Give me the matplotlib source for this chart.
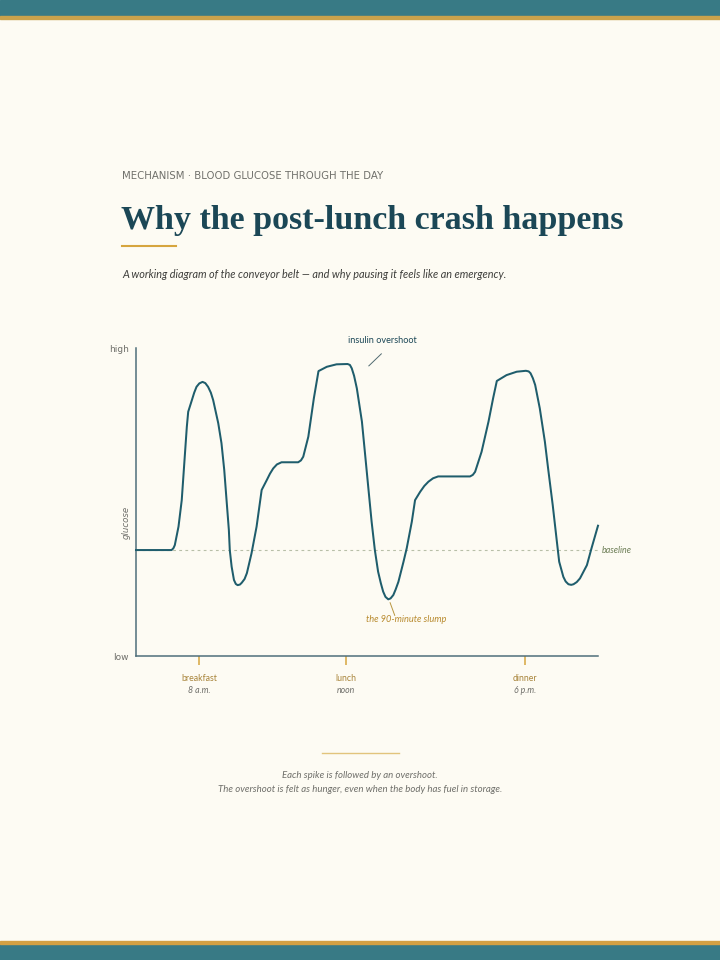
import numpy as np
import matplotlib.pyplot as plt
from matplotlib.patches import Rectangle

# curve: x = position along the day (0-100), y = glucose (0 low, 100 high)
curve_x = [0.0, 7.7, 8.1, 8.4, 9.2, 9.9, 10.5, 11.0, 11.3, 12.1, 12.6, 13.1, 13.7, 14.4, 15.0,
           15.6, 16.2, 16.7, 17.8, 18.5, 19.1, 19.6, 20.1, 20.3, 20.7, 21.2, 21.6, 22.0, 22.5,
           22.9, 23.5, 24.0, 25.0, 26.1, 27.2, 28.3, 29.0, 29.7, 30.5, 31.5, 35.1, 35.7, 36.2,
           37.3, 38.5, 39.5, 41.3, 43.4, 45.8, 46.3, 46.7, 47.2, 47.8, 48.9, 49.6, 50.3, 51.0,
           51.7, 52.4, 53.0, 53.5, 54.0, 54.6, 55.1, 55.7, 56.2, 56.8, 57.9, 58.6, 59.7, 60.4,
           61.5, 62.4, 63.3, 64.3, 65.4, 72.3, 72.9, 73.4, 74.8, 76.3, 77.3, 78.1, 80.2, 82.4,
           84.4, 85.0, 85.4, 85.9, 86.4, 87.4, 88.5, 89.2, 90.2, 91.1, 91.6, 92.5, 93.0, 93.6,
           94.2, 94.7, 95.4, 96.1, 97.6, 98.6, 100.0]
curve_y = [34.4, 34.4, 35.0, 36.0, 42.0, 50.6, 63.6, 74.4, 79.3, 83.1, 85.5, 87.4, 88.5, 89.0, 88.6,
           87.4, 85.5, 83.1, 75.6, 69.1, 60.4, 50.6, 40.9, 34.4, 29.0, 24.7, 23.4, 23.0, 23.2,
           23.8, 25.0, 26.9, 33.3, 42.0, 53.9, 57.1, 59.2, 60.9, 62.2, 62.9, 62.9, 63.5, 64.7,
           71.2, 83.7, 92.5, 93.9, 94.7, 94.8, 94.5, 93.4, 91.0, 86.9, 76.1, 65.3, 54.4, 43.6,
           34.4, 27.4, 23.6, 20.9, 19.2, 18.4, 18.7, 19.8, 21.6, 24.1, 30.6, 35.0, 43.6, 50.6,
           53.3, 55.2, 56.6, 57.7, 58.3, 58.3, 58.8, 59.8, 66.3, 76.1, 83.7, 89.3, 91.2, 92.3,
           92.6, 92.4, 91.8, 90.2, 88.0, 80.4, 69.6, 60.9, 49.0, 37.1, 30.6, 25.7, 24.2, 23.3,
           23.1, 23.3, 24.0, 25.2, 29.5, 35.0, 42.3]
baseline_y = 34.4

meal_x = [13.6, 45.5, 84.2]
meal_names = ['breakfast', 'lunch', 'dinner']
meal_times = ['8 a.m.', 'noon', '6 p.m.']

eyebrow = 'MECHANISM · BLOOD GLUCOSE THROUGH THE DAY'
title = 'Why the post-lunch crash happens'
subtitle = 'A working diagram of the conveyor belt — and why pausing it feels like an emergency.'
footer = ['Each spike is followed by an overshoot.',
          'The overshoot is felt as hunger, even when the body has fuel in storage.']

BG = '#fdfbf3'
TEAL = '#387a85'
GOLD = '#d6a53e'
INK = '#1b4756'
LINE = '#1f5d6c'
GREY = '#6f6f6a'

W, H = 720, 960


def fy(py):
    return 1 - py / H


fig = plt.figure(figsize=(7.2, 9.6), dpi=100, facecolor=BG)

# top / bottom bands
fig.patches.append(Rectangle((0, fy(16)), 1, 16 / H, transform=fig.transFigure, color=TEAL, zorder=0))
fig.patches.append(Rectangle((0, fy(19)), 1, 3 / H, transform=fig.transFigure, color='#c9a24c', zorder=0))
fig.patches.append(Rectangle((0, 0), 1, 16 / H, transform=fig.transFigure, color=TEAL, zorder=0))
fig.patches.append(Rectangle((0, 16 / H), 1, 3 / H, transform=fig.transFigure, color='#d3a043', zorder=0))

# header
fig.text(122 / W, fy(176), eyebrow, fontsize=7.3, color=GREY, va='center', ha='left',
         family='DejaVu Sans')
fig.text(121 / W, fy(229), title, fontsize=24.5, color=INK, va='baseline', ha='left',
         family='Liberation Serif', weight='bold')
fig.add_artist(plt.Line2D([122 / W, 176 / W], [fy(246), fy(246)], color=GOLD, lw=1.5))
fig.text(122 / W, fy(274), subtitle, fontsize=7.8, color='#3d3d3a', va='center', ha='left',
         family='Lato', style='italic')

# chart
ax = fig.add_axes([136 / W, 1 - 656 / H, 462 / W, 308 / H])
ax.set_facecolor(BG)
ax.set_xlim(0, 100)
ax.set_ylim(0, 100)
for s in ['top', 'right']:
    ax.spines[s].set_visible(False)
for s in ['left', 'bottom']:
    ax.spines[s].set_color('#4f6f7a')
    ax.spines[s].set_linewidth(1.1)

ax.set_yticks([0, 100], ['low', 'high'])
ax.tick_params(axis='y', length=0, pad=5, labelsize=6.5, labelcolor=GREY)
ax.set_xticks(meal_x, ['', '', ''])
ax.tick_params(axis='x', length=6.8, width=1.1, color=GOLD, direction='out')

ax.text(-2.2, 43.5, 'glucose', rotation=90, fontsize=6.2, color=GREY, style='italic',
        ha='center', va='center', family='DejaVu Sans')

ax.axhline(baseline_y, color='#b8bfa8', lw=0.8, dashes=(2.5, 3), zorder=1)
ax.annotate('baseline', (100, baseline_y), xytext=(3, 0), textcoords='offset points',
            fontsize=6.4, color='#6c7d55', style='italic', va='center', ha='left',
            family='Lato', annotation_clip=False)

ax.plot(curve_x, curve_y, color=LINE, lw=1.45, solid_joinstyle='round', zorder=3, clip_on=False)

# annotations
ax.text(53.3, 102.3, 'insulin overshoot', fontsize=6.6, color=INK, ha='center', va='center',
        family='Lato', clip_on=False)
ax.plot([50.4, 53.1], [94.2, 98.1], color='#506a70', lw=0.7, clip_on=False)
ax.text(58.4, 12.0, 'the 90-minute slump', fontsize=6.7, color='#b88a2e', style='italic',
        ha='center', va='center', family='Lato')
ax.plot([55.0, 56.0], [17.3, 13.2], color='#b8953e', lw=0.7)

for mx, name, t in zip(meal_x, meal_names, meal_times):
    ax.annotate(name, (mx, 0), xytext=(0, -16), textcoords='offset points', fontsize=6.3,
                color='#a8843a', ha='center', va='center', family='Lato', annotation_clip=False)
    ax.annotate(t, (mx, 0), xytext=(0, -25), textcoords='offset points', fontsize=6.3,
                color=GREY, style='italic', ha='center', va='center', family='Lato',
                annotation_clip=False)

# footer
fig.add_artist(plt.Line2D([322 / W, 399 / W], [fy(753), fy(753)], color='#e2c47c', lw=1.0))
fig.text(0.5, fy(776), footer[0], fontsize=6.95, color=GREY, style='italic', ha='center',
         va='center', family='Lato')
fig.text(0.5, fy(790), footer[1], fontsize=6.95, color=GREY, style='italic', ha='center',
         va='center', family='Lato')

fig.savefig('out.png', dpi=100, facecolor=BG)
